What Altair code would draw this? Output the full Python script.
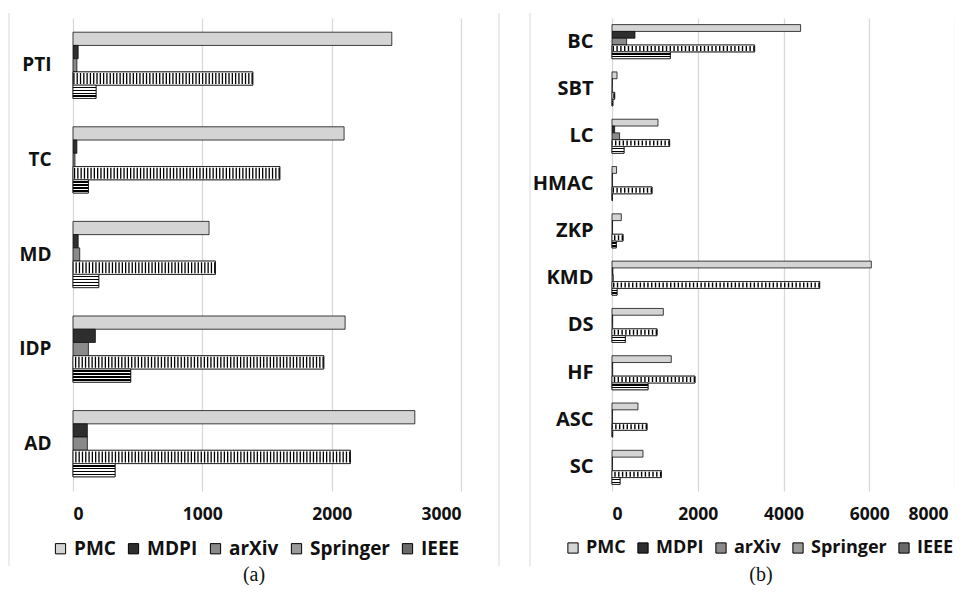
import altair as alt
import pandas as pd

series = ["PMC", "MDPI", "arXiv", "Springer", "IEEE"]
fills = ["#d4d4d4", "#2e2e2e", "#8a8a8a", "#9a9a9a", "#6a6a6a"]

# Panel (a)
cats_a = ["PTI", "TC", "MD", "IDP", "AD"]
pmc_a = [2465, 2096, 1052, 2104, 2643]
mdpi_a = [40, 30, 40, 173, 111]
arxiv_a = [30, 15, 52, 119, 111]
springer_a = [1390, 1599, 1101, 1939, 2145]
ieee_a = [178, 119, 199, 446, 325]
ticks_a = [0, 1000, 2000, 3000]

# Panel (b)
cats_b = ["BC", "SBT", "LC", "HMAC", "ZKP", "KMD", "DS", "HF", "ASC", "SC"]
pmc_b = [4399, 117, 1073, 107, 217, 6048, 1197, 1383, 606, 723]
mdpi_b = [536, 8, 62, 10, 12, 20, 15, 15, 10, 10]
arxiv_b = [341, 5, 177, 10, 12, 30, 15, 15, 10, 10]
springer_b = [3326, 62, 1344, 933, 257, 4843, 1050, 1936, 816, 1150]
ieee_b = [1360, 20, 280, 10, 100, 117, 310, 840, 15, 187]
ticks_b = [0, 2000, 4000, 6000, 8000]

FONT = "Open Sans"
BORDER = "#d9d9d9"


def long_df(cats, cols):
    rows = []
    for i, c in enumerate(cats):
        for s, v in zip(series, cols):
            rows.append({"cat": c, "series": s, "value": v[i]})
    return pd.DataFrame(rows)


def hstripes(n):
    stops = []
    k_total = 2 * n + 1
    step = 1.0 / k_total
    for k in range(k_total):
        c = "#ffffff" if k % 2 == 0 else "#000000"
        stops.append(alt.GradientStop(color=c, offset=round(k * step, 4)))
        stops.append(alt.GradientStop(color=c, offset=round((k + 1) * step, 4)))
    return alt.LinearGradient(gradient="linear", stops=stops, x1=0, x2=0, y1=0, y2=1)


def panel(cats, cols, ticks, width, height, pin, pout, lab_pad, lab_font,
          leg_x, leg_y, leg_font, col_pad, cap, cap_x, cap_y, dash, rule_w,
          n_lines, borders, last_shift):
    df = long_df(cats, cols)
    y = alt.Y("cat:N", sort=cats, title=None,
              scale=alt.Scale(paddingInner=pin, paddingOuter=pout),
              axis=alt.Axis(ticks=False, domain=False, grid=False,
                            labelPadding=lab_pad, labelFont=FONT,
                            labelFontWeight="bold", labelFontSize=lab_font,
                            labelColor="#111"))
    yoff = alt.YOffset("series:N", sort=series, scale=alt.Scale(domain=series))
    x = alt.X("value:Q", title=None,
              scale=alt.Scale(domain=[ticks[0], ticks[-1]], nice=False),
              axis=alt.Axis(values=ticks, ticks=False, domain=False, grid=True,
                            gridColor="#d9d9d9", gridWidth=1.3,
                            labelPadding=14, labelFont=FONT,
                            labelFontWeight="bold", labelFontSize=17.5,
                            labelColor="#111", format="d",
                            labelOffset={"expr": f"datum.value == {ticks[-1]} ? {last_shift} : 0"}))
    base = alt.Chart(df).mark_bar(stroke="#111", strokeWidth=0.8).encode(
        x=x, y=y, yOffset=yoff,
        color=alt.Color("series:N", sort=series,
                        scale=alt.Scale(domain=series, range=fills),
                        legend=alt.Legend(orient="none", legendX=leg_x, legendY=leg_y,
                                          direction="horizontal", title=None,
                                          symbolType="square", symbolSize=105,
                                          symbolStrokeColor="#000",
                                          symbolStrokeWidth=1,
                                          labelFont=FONT, labelFontWeight="bold",
                                          labelFontSize=leg_font, labelColor="#111",
                                          labelOffset=4, columnPadding=col_pad)),
    )
    spr = df[df["series"] == "Springer"]
    spr_bar = alt.Chart(spr).mark_bar(fill="#ffffff", stroke="#111", strokeWidth=0.8).encode(
        x="value:Q", y=alt.Y("cat:N", sort=cats), yOffset=yoff)
    spr_rule = alt.Chart(spr).mark_rule(color="#000", strokeWidth=rule_w,
                                         strokeDash=dash).encode(
        x="value:Q", x2=alt.datum(0), y=alt.Y("cat:N", sort=cats), yOffset=yoff)
    iee = df[df["series"] == "IEEE"]
    iee_bar = alt.Chart(iee).mark_bar(fill=hstripes(n_lines), stroke="#111",
                                      strokeWidth=0.8).encode(
        x="value:Q", y=alt.Y("cat:N", sort=cats), yOffset=yoff)
    caption = alt.Chart(pd.DataFrame({"t": [cap]})).mark_text(
        font="Liberation Serif", fontSize=20, color="#111").encode(
        text="t:N", x=alt.value(cap_x), y=alt.value(cap_y))
    layers = [base, spr_bar, spr_rule, iee_bar, caption]
    for bx in borders:
        layers.append(alt.Chart(pd.DataFrame({"b": [0]})).mark_rule(
            color=BORDER, strokeWidth=1).encode(
            x=alt.value(bx), y=alt.value(-5), y2=alt.value(548)))
    return alt.layer(*layers).properties(width=width, height=height)


left = panel(cats_a, [pmc_a, mdpi_a, arxiv_a, springer_a, ieee_a], ticks_a,
             388, 473, 0.30, 0.15, 22, 19, -22, 521, 19, 8, "(a)", 181, 557,
             [1.3, 2.0], 11.0, 4, [-64, 426], 0)
right = panel(cats_b, [pmc_b, mdpi_b, arxiv_b, springer_b, ieee_b], ticks_b,
              343, 473, 0.28, 0.14, 19, 20, -48, 521, 18, 8, "(b)", 149, 557,
              [1.4, 2.4], 5.0, 2, [-82], -7)

chart = alt.hconcat(left, right, spacing=151, bounds="flush").resolve_scale(
    color="independent", yOffset="independent").resolve_legend(
    color="independent").properties(
    padding={"left": 0, "top": 4, "right": 0, "bottom": 0}
).configure_view(stroke=None)

chart.save("out.html", embed_options={"renderer": "svg", "actions": False})
